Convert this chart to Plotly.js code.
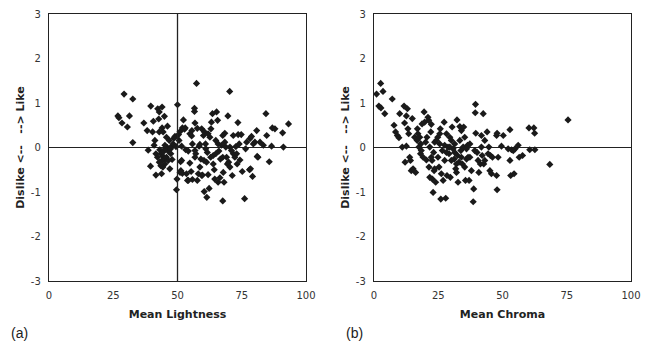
<!DOCTYPE html>
<html>
<head>
<meta charset="utf-8">
<script src="https://cdn.plot.ly/plotly-3.0.1.min.js"></script>
<style>html,body{margin:0;padding:0;background:#fff;}#chart{width:645px;height:345px;}</style>
</head>
<body>
<div id="chart"></div>
<script>
// Panel (a): Mean Lightness vs preference
const lightX = [26.8,27.2,28.4,29.2,30.5,31.3,32.6,32.6,36.9,38.6,38.2,39.6,39.5,40.3,40.6,40.9,41.2,41.6,42.3,42.9,42.7,44.0,43.8,42.9,44.0,44.4,44.9,43.1,43.5,44.4,44.0,45.1,45.1,44.3,45.7,46.1,46.0,46.4,47.0,47.4,47.8,48.3,48.6,49.0,47.9,49.4,49.8,49.6,50.0,50.4,50.6,51.0,51.3,51.2,51.6,51.9,52.3,51.9,52.7,53.0,53.2,53.9,54.2,54.8,55.5,55.6,55.3,55.8,56.6,56.6,56.8,56.8,56.8,57.4,57.7,58.1,58.4,58.7,59.1,59.4,59.7,60.1,60.4,60.5,60.9,61.3,61.4,61.6,61.9,62.3,62.6,63.0,63.2,63.6,63.9,64.3,64.5,64.9,65.2,65.6,65.8,66.1,66.5,67.1,67.6,67.6,67.8,68.1,68.4,68.8,69.1,69.6,69.9,70.3,70.4,71.3,71.7,72.3,72.7,73.2,73.5,73.6,74.3,74.8,75.2,76.1,76.5,78.0,78.2,78.8,79.2,79.5,80.1,80.8,81.0,82.1,83.4,84.4,84.7,85.7,86.6,86.9,87.9,90.9,91.2,93.2,
  41.6,42.2,42.9,43.5,44.4,45.3,45.7,46.4,46.8,47.3,45.1,51.0,51.6,53.5,54.2,54.8,55.8,57.1,57.7,58.7,59.4,60.3,61.0,61.9,62.9,63.9,64.9,65.8,66.7,67.6,68.4,69.4,70.4,71.0,71.7,73.0,74.0,76.9,78.4,81.3];
const lightY = [0.71,0.67,0.55,1.20,0.46,0.71,1.09,0.11,0.55,-0.06,0.38,0.93,-0.42,0.35,0.59,0.05,0.16,-0.62,0.87,0.80,0.64,0.91,-0.59,0.35,0.44,0.35,0.70,-0.05,-0.14,-0.20,-0.29,-0.26,-0.37,-0.44,0.23,0.48,0.00,-0.08,-0.48,-0.14,0.03,0.08,0.21,0.25,-0.27,0.02,-0.71,-0.95,0.96,0.29,0.16,0.36,-0.52,-0.32,0.03,-0.58,0.62,0.44,0.41,0.44,-0.05,-0.74,-0.08,-0.35,0.26,0.38,-0.54,-0.72,0.88,0.81,0.55,-0.07,-0.22,1.44,0.43,-0.59,0.03,0.07,-0.26,0.42,-0.62,0.27,-0.99,0.35,0.08,-0.33,-1.12,-0.11,-0.61,-0.92,0.23,0.42,0.57,0.76,-0.18,-0.50,-0.71,0.16,0.80,0.61,-0.78,-0.08,-0.68,0.05,-1.20,0.27,-0.56,-0.78,0.32,0.01,-0.22,0.71,-0.33,1.26,0.01,-0.63,-0.14,-0.22,0.02,-0.37,0.56,0.29,-0.28,0.29,-0.54,-1.15,-0.03,-0.50,0.20,0.25,-0.65,0.08,0.12,0.38,-0.20,0.12,0.05,0.76,0.27,-0.32,0.03,0.44,0.42,0.33,0.01,0.53,
  -0.14,-0.22,-0.33,-0.41,-0.10,-0.03,-0.22,-0.29,0.16,-0.03,0.05,-0.56,-0.29,-0.59,-0.74,0.31,0.08,-0.14,-0.74,-0.44,-0.63,-0.29,-0.03,0.31,-0.22,-0.37,-0.14,0.08,-0.26,-0.22,0.12,-0.37,-0.44,-0.07,0.27,-0.14,0.08,0.12,-0.48,-0.22];

// Panel (b): Mean Chroma vs preference
const chromaX = [1.0,2.6,1.9,2.7,3.5,4.2,7.1,7.8,8.4,9.1,9.7,10.0,11.0,11.7,11.9,12.1,12.6,13.0,13.2,12.6,13.5,13.9,14.2,14.5,14.9,15.2,15.8,16.2,16.8,16.9,17.1,17.5,18.1,18.2,18.7,19.1,19.5,19.7,20.1,20.4,20.6,21.0,21.3,21.4,21.7,22.1,22.3,22.6,22.7,23.0,23.2,23.4,23.6,24.0,24.3,24.8,25.3,25.6,25.8,26.0,26.2,26.6,26.9,27.3,27.5,27.9,28.2,28.4,28.8,29.2,29.5,29.7,30.1,30.4,30.8,31.2,31.4,31.8,32.1,32.3,32.5,32.7,33.1,33.4,33.8,34.0,34.4,34.7,34.9,35.3,35.6,36.0,36.4,36.6,37.0,37.3,37.9,38.6,38.8,39.2,39.5,39.4,39.6,40.1,40.8,41.4,41.8,42.1,42.5,42.7,43.1,44.0,44.7,45.1,45.3,45.7,47.7,47.9,47.7,47.9,48.3,49.6,50.3,52.2,52.9,52.9,53.2,53.5,54.2,54.5,54.9,56.1,56.5,57.8,60.3,60.6,62.2,62.5,62.6,68.4,75.5,
  17.8,18.4,21.7,22.3,23.6,24.9,25.6,27.5,28.2,29.5,30.1,31.4,32.1,33.4,34.0,35.3,36.0,37.3,40.5,41.8,43.1,44.4,46.1];
const chromaY = [1.20,1.44,0.93,0.89,1.26,0.76,1.09,0.50,0.35,0.27,0.22,0.76,0.01,0.93,0.55,-0.33,0.71,0.87,0.42,0.03,0.31,-0.22,-0.29,-0.52,0.65,-0.48,0.23,-0.56,0.16,0.42,0.31,0.01,-0.14,0.08,0.53,-0.22,0.80,0.57,0.12,-0.28,0.23,0.68,0.61,-0.44,-0.67,0.35,0.52,-0.29,-0.71,-1.01,-0.11,-0.52,0.12,-0.78,0.16,0.23,-0.44,0.08,0.42,-1.16,-0.59,-0.07,-0.74,0.57,0.05,-1.14,0.31,-0.63,0.01,-0.14,0.23,-0.67,0.16,0.46,-0.03,-0.26,-0.11,-0.48,-0.56,0.62,-0.18,-0.78,-0.33,0.47,-0.07,0.38,-0.37,0.01,0.46,0.23,-0.74,-0.26,0.05,-0.22,-0.74,0.08,-0.52,-1.22,-0.93,-0.07,0.97,0.78,0.32,-0.11,-0.56,-0.37,0.27,-0.18,0.76,-0.37,0.16,0.35,0.01,-0.52,-0.18,-0.59,0.27,0.32,-0.63,-0.95,-0.22,0.03,0.27,-0.03,0.40,-0.29,-0.63,-0.05,-0.07,-0.59,-0.03,0.05,-0.22,-0.18,0.44,-0.05,0.44,0.32,-0.05,-0.38,0.62,
  0.23,-0.07,0.01,-0.22,-0.48,-0.22,0.31,-0.29,-0.11,0.01,-0.29,0.08,-0.37,0.16,-0.22,-0.44,-0.03,-0.22,-0.29,0.01,-0.29,-0.14,-0.22];

const xTicks = [0,25,50,75,100];
const yTicks = [-3,-2,-1,0,1,2,3];
const xTitles = ["Mean Lightness","Mean Chroma"];
const yTitle = "Dislike <--\u00a0\u00a0\u00a0--> Like";
const panelLabels = ["(a)","(b)"];

const marker = {symbol:'diamond', size:5.5, color:'#1a1a1a'};
const traces = [
  {x: lightX, y: lightY, type:'scatter', mode:'markers', marker: marker, xaxis:'x', yaxis:'y', hoverinfo:'none'},
  {x: chromaX, y: chromaY, type:'scatter', mode:'markers', marker: marker, xaxis:'x2', yaxis:'y2', hoverinfo:'none'}
];

const tickFont = {family:'DejaVu Sans, Verdana, sans-serif', size:10, color:'#333'};
const titleFont = {family:'DejaVu Sans, Verdana, sans-serif', size:11, color:'#222', weight:'bold'};

function xAxis(domain, title, anchor){
  return {domain: domain, anchor: anchor, range:[0,100], tickvals: xTicks, ticktext: xTicks.map(String),
    showgrid:false, zeroline:false, showline:true, mirror:true, linecolor:'#222', linewidth:1.2,
    ticks:'outside', ticklen:5, tickcolor:'rgba(0,0,0,0)', tickfont: tickFont, title:{text:'<b>'+title+'</b>', font: titleFont, standoff:10}, fixedrange:true};
}
function yAxis(anchor){
  return {anchor: anchor, range:[-3,3], tickvals: yTicks, ticktext: yTicks.map(String),
    showgrid:false, zeroline:true, zerolinecolor:'#222', zerolinewidth:1.5, showline:true, mirror:true, linecolor:'#222', linewidth:1.2,
    ticks:'outside', ticklen:5, tickcolor:'rgba(0,0,0,0)', tickfont: tickFont, title:{text:'<b>'+yTitle+'</b>', font: titleFont, standoff:4}, fixedrange:true};
}

const layout = {
  width:645, height:345,
  margin:{l:49, r:14, t:14, b:64},
  paper_bgcolor:'#fff', plot_bgcolor:'#fff',
  showlegend:false,
  xaxis: xAxis([0,0.4416], xTitles[0], 'y'),
  yaxis: yAxis('x'),
  xaxis2: xAxis([0.5584,1], xTitles[1], 'y2'),
  yaxis2: yAxis('x2'),
  shapes:[{type:'line', xref:'x', yref:'y', x0:50, x1:50, y0:-3, y1:3, line:{color:'#222', width:1.3}}],
  annotations:[
    {text:panelLabels[0], xref:'paper', yref:'paper', x:-0.069, y:-0.195, xanchor:'left', yanchor:'middle', showarrow:false, font:{family:'Liberation Sans, Arial, sans-serif', size:14, color:'#222'}},
    {text:panelLabels[1], xref:'paper', yref:'paper', x:0.507, y:-0.195, xanchor:'left', yanchor:'middle', showarrow:false, font:{family:'Liberation Sans, Arial, sans-serif', size:14, color:'#222'}}
  ]
};

Plotly.newPlot('chart', traces, layout, {displayModeBar:false, staticPlot:true});
</script>
</body>
</html>
